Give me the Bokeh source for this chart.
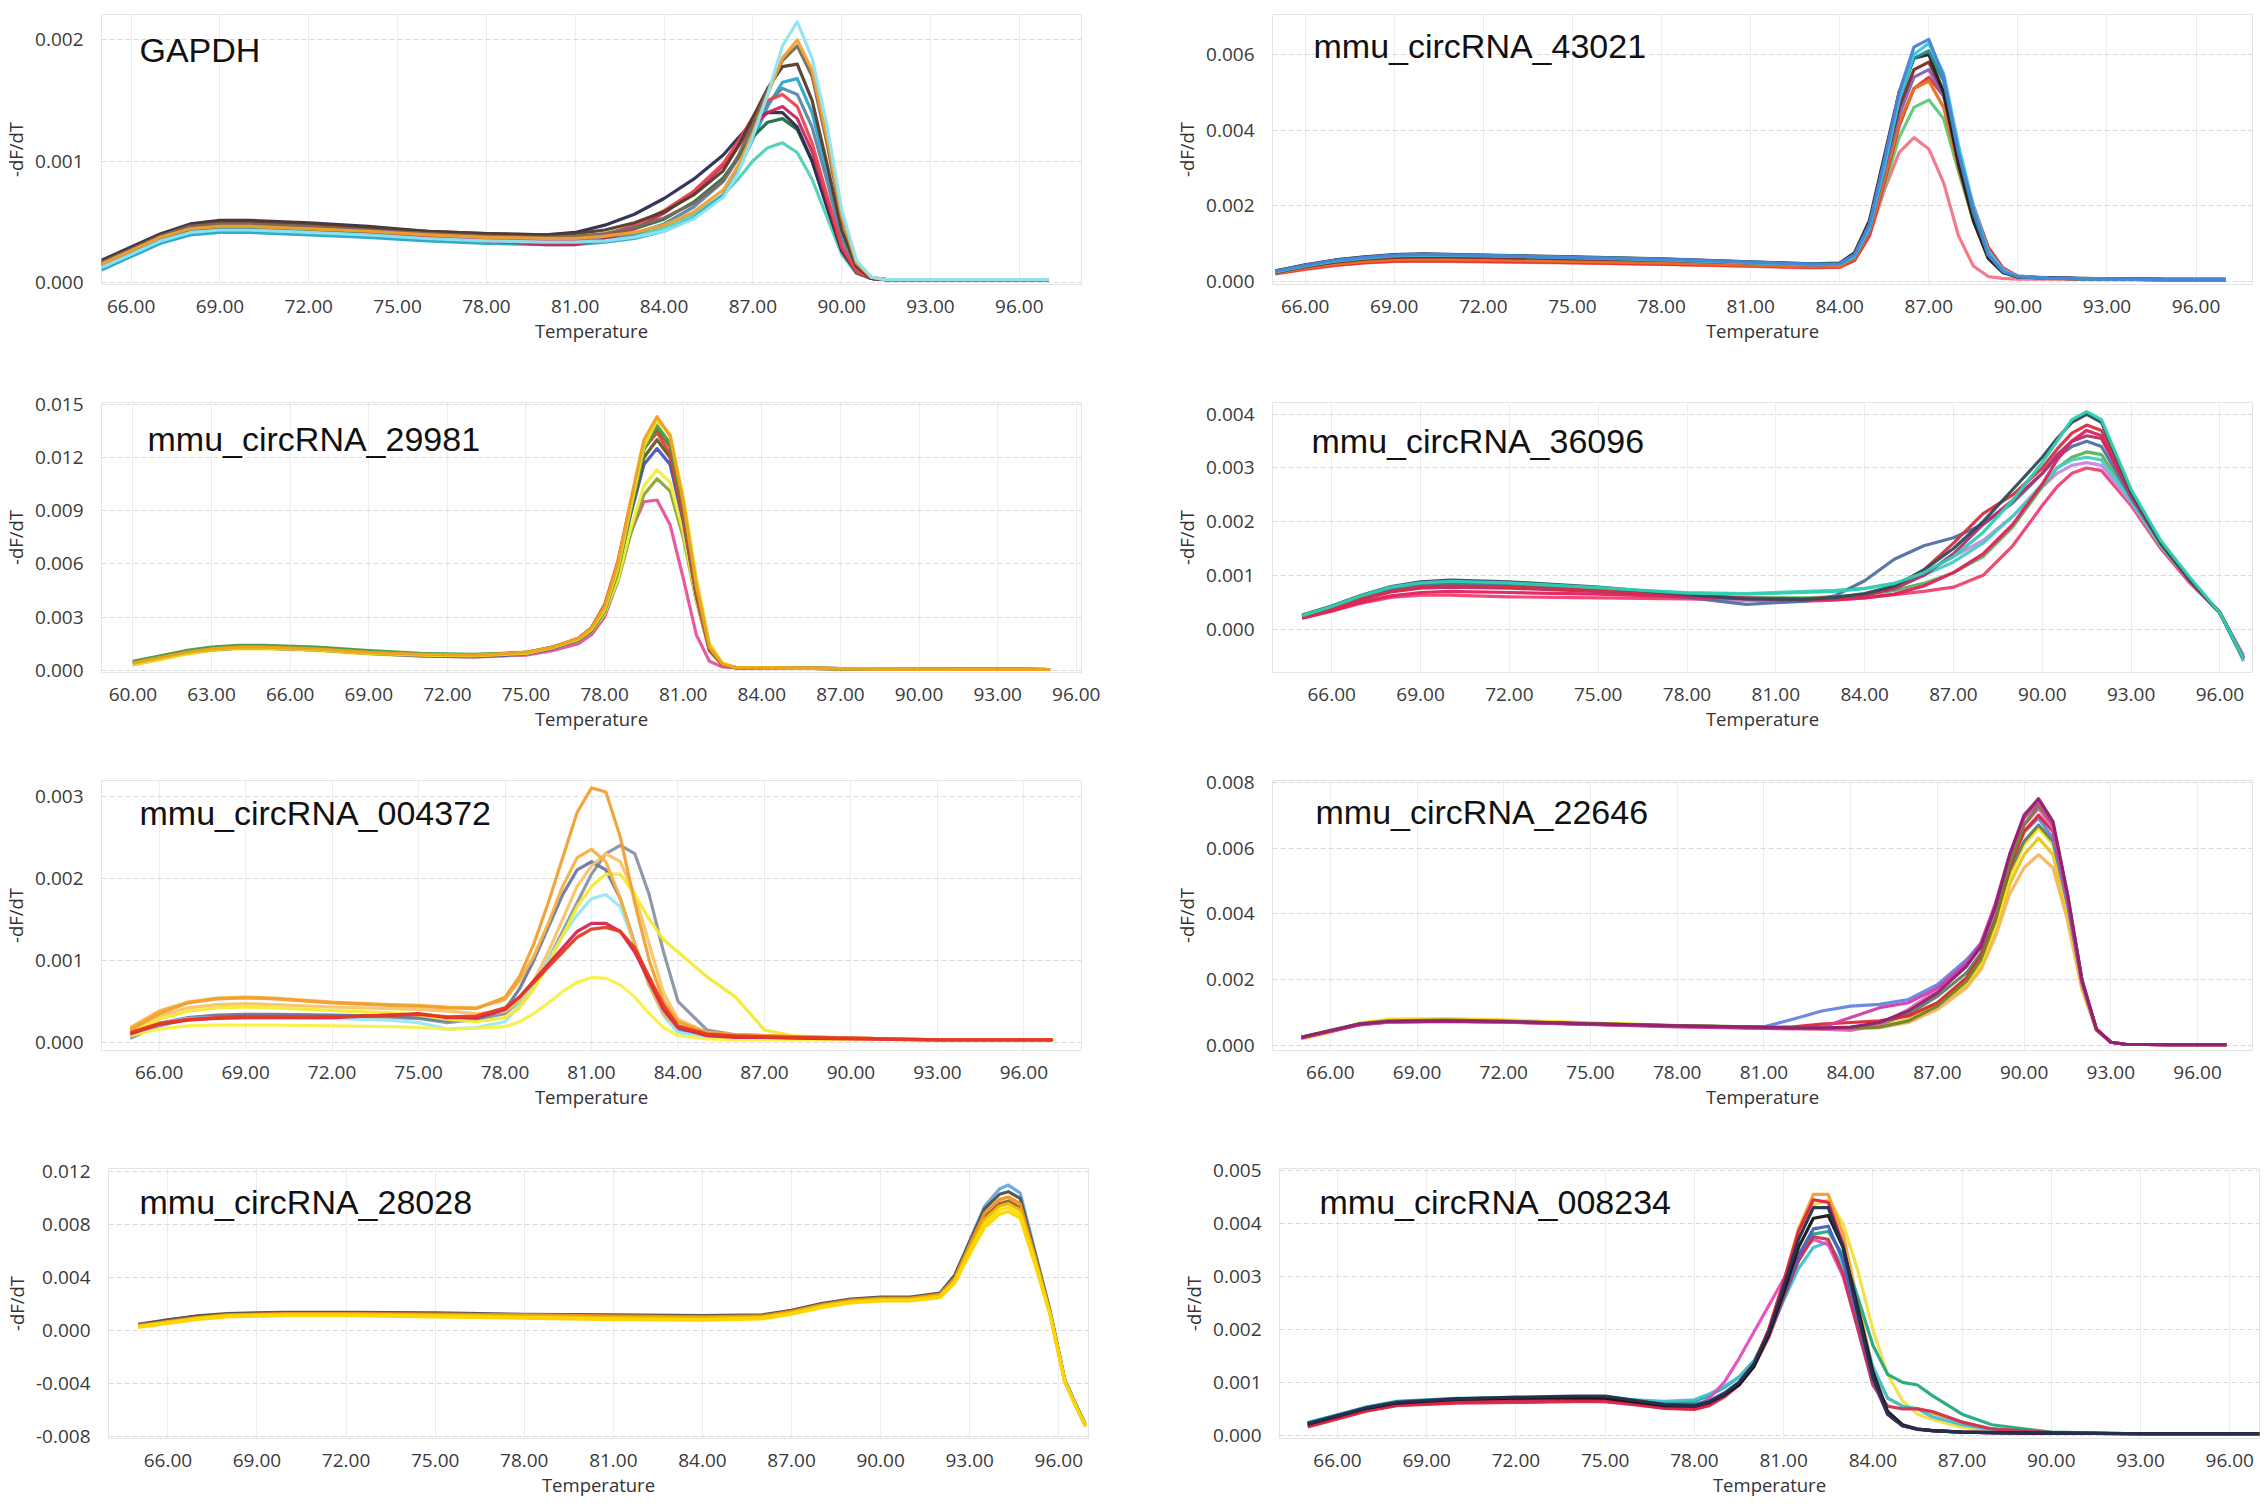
from bokeh.plotting import figure
from bokeh.layouts import column, row
from bokeh.models import Label, FixedTicker, NumeralTickFormatter, Range1d
from bokeh.embed import file_html
from bokeh.resources import INLINE

UNIT = 1e-4  # every curve value below is -dF/dT in units of 1e-4

TICK_FONT = "Open Sans"
TITLE_FONT = "Liberation Sans"
FRAME_W, FRAME_H = 980, 270

temp_ticks = [66, 69, 72, 75, 78, 81, 84, 87, 90, 93, 96]
temp_ticks_60 = [60, 63, 66, 69, 72, 75, 78, 81, 84, 87, 90, 93, 96]

# ---------------- GAPDH
gapdh_temp = [65, 66, 67, 68, 69, 70, 72, 74, 76, 78, 80, 81, 82, 83, 84, 85, 86,
              86.5, 87, 87.5, 88, 88.5, 89, 89.5, 90, 90.5, 91, 91.5, 93, 95, 97]
gapdh_j = [1.1, 2.2, 3.3, 4.0, 4.2, 4.2, 4.0, 3.8, 3.5, 3.3, 3.2, 3.2, 3.4, 3.8, 4.5, 5.6, 7.2,
           8.5, 10.0, 11.1, 11.5, 10.7, 8.5, 5.4, 2.3, 0.7, 0.3, 0.2, 0.2, 0.2, 0.2]
gapdh_e = [1.0, 2.1, 3.2, 3.9, 4.1, 4.1, 3.9, 3.7, 3.4, 3.2, 3.1, 3.1, 3.3, 3.6, 4.2, 5.3, 7.2,
           9.2, 11.8, 14.5, 16.5, 16.8, 14.0, 9.2, 4.0, 1.2, 0.3, 0.2, 0.2, 0.2, 0.2]
gapdh_k = [1.3, 2.4, 3.5, 4.2, 4.4, 4.4, 4.2, 4.0, 3.7, 3.5, 3.4, 3.4, 3.6, 4.0, 4.8, 6.2, 8.3,
           10.2, 12.5, 14.8, 16.0, 15.5, 12.8, 8.4, 3.6, 1.1, 0.3, 0.2, 0.2, 0.2, 0.2]
gapdh_i = [1.4, 2.5, 3.6, 4.3, 4.5, 4.5, 4.3, 4.0, 3.7, 3.5, 3.5, 3.6, 3.9, 4.4, 5.2, 6.6, 8.6,
           10.3, 12.0, 13.2, 13.5, 12.6, 10.0, 6.3, 2.6, 0.8, 0.3, 0.2, 0.2, 0.2, 0.2]
gapdh_h = [1.8, 2.9, 4.0, 4.8, 5.1, 5.1, 4.9, 4.6, 4.2, 4.0, 3.9, 4.1, 4.7, 5.6, 6.9, 8.5, 10.5,
           11.9, 13.2, 14.0, 14.0, 12.8, 10.0, 6.2, 2.6, 0.8, 0.3, 0.2, 0.2, 0.2, 0.2]
gapdh_g = [1.5, 2.6, 3.7, 4.5, 4.7, 4.7, 4.5, 4.2, 3.8, 3.4, 3.1, 3.1, 3.5, 4.4, 5.7, 7.4, 9.6,
           11.2, 12.9, 14.0, 14.5, 13.5, 10.8, 6.8, 2.8, 0.8, 0.3, 0.2, 0.2, 0.2, 0.2]
gapdh_f = [1.6, 2.7, 3.8, 4.6, 4.9, 4.9, 4.6, 4.3, 4.0, 3.7, 3.4, 3.5, 3.9, 4.7, 5.9, 7.5, 9.8,
           11.6, 13.6, 15.0, 15.5, 14.5, 11.5, 7.2, 3.0, 0.9, 0.3, 0.2, 0.2, 0.2, 0.2]
gapdh_d = [1.7, 2.8, 3.9, 4.7, 5.0, 5.0, 4.8, 4.5, 4.2, 4.0, 3.9, 4.0, 4.3, 4.9, 5.8, 7.2, 9.2,
           11.2, 13.6, 16.0, 17.8, 18.0, 15.0, 9.8, 4.3, 1.3, 0.3, 0.2, 0.2, 0.2, 0.2]
gapdh_c = [1.6, 2.7, 3.8, 4.6, 4.8, 4.8, 4.6, 4.3, 4.0, 3.8, 3.7, 3.8, 4.0, 4.5, 5.3, 6.5, 8.4,
           10.4, 13.0, 15.8, 18.3, 19.5, 17.0, 11.5, 5.2, 1.5, 0.4, 0.2, 0.2, 0.2, 0.2]
gapdh_b = [1.5, 2.6, 3.7, 4.4, 4.6, 4.6, 4.4, 4.2, 3.9, 3.7, 3.6, 3.6, 3.8, 4.1, 4.7, 5.8, 7.6,
           9.6, 12.3, 15.5, 18.5, 20.0, 17.5, 12.0, 5.5, 1.6, 0.4, 0.2, 0.2, 0.2, 0.2]
gapdh_a = [1.2, 2.3, 3.4, 4.1, 4.3, 4.3, 4.1, 3.9, 3.6, 3.4, 3.3, 3.3, 3.4, 3.7, 4.2, 5.2, 7.0,
           9.0, 12.0, 15.5, 19.5, 21.5, 18.5, 13.0, 6.0, 1.8, 0.4, 0.2, 0.2, 0.2, 0.2]
gapdh_colors = ["#4fd0b8", "#2aa8c8", "#5a86a8", "#1f6a44", "#2b2b52", "#c8285a",
                "#e84450", "#5a3a2a", "#7a6a5a", "#f0a030", "#8ee4f2"]

# ---------------- mmu_circRNA_43021
c43021_temp = [65, 66, 67, 68, 69, 70, 72, 75, 78, 81, 83, 84, 84.5, 85, 85.5, 86, 86.5,
               87, 87.5, 88, 88.5, 89, 89.5, 90, 91, 93, 95, 97]
c43021_pink = [1.9, 3.1, 4.1, 4.8, 5.2, 5.3, 5.1, 4.8, 4.4, 3.9, 3.5, 3.6,
               5.5, 12, 24, 34, 38, 35, 26, 12, 4, 1.2, 0.7, 0.5, 0.5, 0.4, 0.4, 0.4]
c43021_green = [2.4, 3.9, 5.1, 5.9, 6.4, 6.6, 6.4, 6.0, 5.5, 4.8, 4.3, 4.4,
                6.2, 12.5, 25, 38, 46, 48, 43, 29, 16, 6.5, 2.5, 1.1, 0.8, 0.5, 0.4, 0.4]
c43021_red = [2.0, 3.2, 4.2, 4.9, 5.3, 5.4, 5.2, 4.9, 4.5, 4.0, 3.6, 3.7,
              5.5, 12, 26, 41, 51, 54, 49, 34, 20, 9, 3.5, 1.3, 0.8, 0.5, 0.4, 0.4]
c43021_orange = [2.1, 3.4, 4.5, 5.2, 5.7, 5.8, 5.6, 5.2, 4.8, 4.2, 3.8, 3.9,
                 6, 13, 27, 42, 51, 53, 46, 30, 16, 6.5, 2.5, 1.1, 0.8, 0.5, 0.4, 0.4]
c43021_purple = [2.5, 4.0, 5.2, 6.0, 6.6, 6.8, 6.6, 6.1, 5.6, 4.9, 4.4, 4.5,
                 6.5, 13.5, 29, 44, 54, 56, 49, 32, 17.5, 7, 2.7, 1.2, 0.8, 0.5, 0.4, 0.4]
c43021_brown = [2.3, 3.8, 5.0, 5.8, 6.3, 6.5, 6.3, 5.9, 5.5, 4.8, 4.3, 4.4,
                6.5, 14, 30, 46, 56, 58, 50, 32, 17, 6.5, 2.5, 1.1, 0.8, 0.5, 0.4, 0.4]
c43021_black = [2.7, 4.3, 5.6, 6.4, 7.0, 7.2, 6.9, 6.4, 5.9, 5.1, 4.6, 4.8,
                7.5, 16, 33, 50, 59, 60, 50, 31, 16, 6, 2.2, 1.1, 0.9, 0.6, 0.5, 0.5]
c43021_teal = [2.6, 4.1, 5.4, 6.2, 6.8, 7.0, 6.8, 6.3, 5.8, 5.0, 4.5, 4.6,
               7, 15, 31, 48, 59, 61, 53, 34, 18, 7, 2.7, 1.2, 0.8, 0.5, 0.4, 0.4]
c43021_cyan = [2.4, 4.0, 5.3, 6.1, 6.7, 6.9, 6.7, 6.2, 5.6, 4.8, 4.3, 4.4,
               6.5, 14, 30, 48, 60, 63, 55, 36, 20, 8, 3, 1.3, 0.8, 0.5, 0.4, 0.4]
c43021_blue = [2.6, 4.2, 5.5, 6.3, 6.9, 7.1, 6.8, 6.3, 5.8, 5.0, 4.5, 4.6,
               7, 15, 32, 50, 62, 64, 54, 34, 19, 7, 2.5, 1.2, 0.8, 0.5, 0.4, 0.4]
c43021_colors = ["#f27585", "#5cc878", "#e83030", "#e87020", "#8060c0", "#7a2a20",
                 "#222222", "#208a8a", "#38c4e4", "#4a84d4"]

# ---------------- mmu_circRNA_29981
c29981_temp = [60, 61, 62, 63, 64, 65, 67, 69, 71, 73, 75, 76, 77, 77.5, 78, 78.5, 79,
               79.5, 80, 80.5, 81, 81.5, 82, 82.5, 83, 85, 88, 92, 95]
c29981_pink = [3.5, 6.5, 9.5, 11.5, 12.5, 12.5, 11.5, 9.5, 8, 7.5, 8.5, 11, 15,
               20, 30, 50, 78, 95, 96, 82, 52, 20, 5, 1.8, 1.3, 1.1, 0.8, 0.5, 0.4]
c29981_olive = [4, 7, 10, 12, 13, 13, 12, 10, 8.5, 8, 9.5, 12.5, 17,
                22, 32, 50, 77, 99, 108, 101, 75, 39, 11, 3, 1.5, 1.2, 0.8, 0.5, 0.4]
c29981_yellow2 = [3, 6, 9, 11, 12, 12, 11, 9, 8, 7.5, 9, 12, 17,
                  22, 32, 51, 80, 104, 113, 106, 78, 40, 12, 3.2, 1.5, 1.2, 0.8, 0.5, 0.4]
c29981_blue = [3.5, 6.5, 9.5, 11.5, 12.5, 12.5, 11.5, 9.5, 8, 7.5, 9, 12, 17,
               23, 35, 57, 88, 116, 125, 116, 84, 42, 12, 3.2, 1.5, 1.2, 0.8, 0.5, 0.4]
c29981_dark = [4.5, 7.5, 10.5, 12.5, 13.5, 13.5, 12.5, 10.5, 9, 8.5, 10, 12.5, 17,
               22.5, 34, 57, 90, 120, 130, 120, 86, 43, 12, 3.2, 1.5, 1.2, 0.8, 0.5, 0.4]
c29981_red = [4, 7, 10, 12, 13, 13, 12, 10, 8.5, 8, 9.5, 12.5, 18,
              24, 37, 61, 95, 125, 134, 122, 86, 42, 11, 3, 1.5, 1.2, 0.8, 0.5, 0.4]
c29981_brown = [4.5, 7.5, 10.5, 12.5, 13.5, 13.5, 12.5, 10.5, 9, 8.5, 10, 13, 18,
                24, 36, 59, 94, 126, 136, 126, 90, 45, 12, 3.3, 1.5, 1.2, 0.8, 0.5, 0.4]
c29981_green = [5, 8, 11, 13, 14, 14, 13, 11, 9.5, 9, 10, 13, 17,
                22, 33, 55, 90, 124, 138, 128, 93, 47, 13, 3.5, 1.5, 1.2, 0.8, 0.5, 0.4]
c29981_yellow = [3, 6, 9, 11.5, 12.5, 12.5, 11.5, 9.5, 8.5, 8, 9.5, 12.5, 17.5,
                 23, 34, 57, 92, 126, 141, 133, 98, 52, 15, 4, 1.6, 1.2, 0.8, 0.5, 0.4]
c29981_orange = [4, 7, 10, 12, 13, 13, 12, 10, 9, 8.5, 10, 13, 18,
                 24, 36, 60, 96, 130, 143, 132, 95, 48, 13, 3.5, 1.5, 1.2, 0.8, 0.5, 0.4]
c29981_colors = ["#e8509c", "#88a830", "#f0ec40", "#4454c4", "#5e6020", "#e04040",
                 "#946030", "#44a044", "#e8dc20", "#f0a020"]

# ---------------- mmu_circRNA_36096
c36096_temp = [65, 66, 67, 68, 69, 70, 72, 75, 78, 80, 82, 83, 84, 85, 86, 87, 88, 89, 90,
               90.5, 91, 91.5, 92, 93, 94, 95, 96, 96.8]
c36096_pinkred = [2.0, 3.3, 4.8, 5.9, 6.3, 6.3, 6.0, 5.8, 5.6, 5.4, 5.2, 5.4,
                  5.8, 6.4, 7.0, 7.8, 10, 15.5, 23, 26.5, 29, 30, 29.5, 23, 15, 8.5, 3, -5]
c36096_violet = [2.3, 3.9, 5.8, 7.2, 7.9, 8.1, 7.8, 7.0, 6.0, 5.4, 5.5, 5.8,
                 6.5, 8.0, 10.5, 13.5, 16.5, 21, 26.5, 29, 30.5, 31, 30.5, 23.5, 15.5, 9, 3, -5]
c36096_green = [2.4, 4.0, 5.9, 7.4, 8.2, 8.4, 8.1, 7.3, 6.3, 5.8, 5.8, 6.0,
                6.4, 7.2, 8.5, 10.5, 13.5, 19, 26.5, 30, 32, 33, 32.5, 24, 15.5, 9, 3, -5.5]
c36096_tealpale = [2.3, 3.9, 5.8, 7.3, 8.1, 8.4, 8.2, 7.5, 6.8, 6.6, 7.0, 7.2,
                   7.6, 8.5, 10, 12.5, 16, 21, 27, 30, 31.5, 32, 31.5, 24, 15.5, 9, 3, -6]
c36096_slateblue = [2.4, 4.0, 6.0, 7.5, 8.3, 8.5, 8.2, 7.3, 5.9, 4.6, 5.2, 6.2,
                    9.0, 13, 15.5, 17, 19.5, 23.5, 29, 32, 34, 35, 34, 24.5, 16, 9, 3, -5.5]
c36096_magenta = [2.2, 3.7, 5.5, 6.9, 7.6, 7.8, 7.6, 7.0, 6.2, 5.8, 5.6, 5.8,
                  6.3, 7.5, 10, 14, 19.5, 24, 29, 32.5, 35, 36, 35.5, 25, 16, 9, 3, -5.5]
c36096_crimson = [2.0, 3.4, 5.0, 6.2, 6.8, 7.0, 6.8, 6.5, 6.0, 5.6, 5.4, 5.5,
                  5.8, 6.5, 8.0, 10.5, 14, 19.5, 27, 31.5, 35, 37, 36, 25, 16, 9, 3, -5.5]
c36096_red = [2.2, 3.8, 5.6, 7.0, 7.8, 8.0, 7.8, 7.2, 6.3, 5.7, 5.6, 5.8,
              6.4, 7.8, 11, 16, 21.5, 25, 30, 33.5, 36.5, 38, 37, 25.5, 16, 9, 3, -5.5]
c36096_slate = [2.6, 4.3, 6.3, 7.9, 8.8, 9.1, 8.8, 7.8, 6.4, 5.6, 5.5, 5.9,
                6.6, 8.0, 11, 15, 20, 26, 32, 35.5, 38.5, 40, 38.5, 25.5, 16, 9, 3, -5.5]
c36096_teal = [2.5, 4.2, 6.2, 7.8, 8.6, 8.9, 8.6, 7.7, 6.7, 6.5, 6.8, 7.0,
               7.5, 8.5, 10.5, 13.5, 18, 24, 31, 35, 39, 40.5, 39, 26, 16.5, 9.5, 3, -5.5]
c36096_colors = ["#f04070", "#c888e4", "#58b450", "#48ccc4", "#5070a4", "#b03070",
                 "#e02060", "#d43040", "#2e4c5c", "#2ed0b0"]

# ---------------- mmu_circRNA_004372
c004372_temp = [65, 66, 67, 68, 69, 70, 72, 74, 75, 76, 77, 78, 78.5, 79, 79.5, 80, 80.5,
                81, 81.5, 82, 82.5, 83, 83.5, 84, 85, 86, 87, 88, 90, 93, 97]
c004372_gray = [0.5, 2.0, 2.8, 3.2, 3.3, 3.3, 3.2, 3.0, 2.9, 2.4, 2.8, 3.5,
                5, 7, 10, 13.5, 17, 20.5, 23, 24, 23, 18, 11, 5, 1.5, 0.9, 0.8, 0.7, 0.5, 0.3, 0.3]
c004372_bluegray = [0.8, 2.3, 3.0, 3.3, 3.4, 3.4, 3.3, 3.2, 3.0, 2.6, 2.8, 4.0,
                    6.5, 10, 14, 18, 21, 22, 21, 17.5, 12, 7, 3.5, 1.5, 0.8, 0.6, 0.5, 0.5, 0.4, 0.3, 0.3]
c004372_cyan = [1.0, 2.3, 2.9, 3.0, 3.0, 3.0, 2.9, 2.7, 2.4, 1.6, 1.8, 2.5,
                4.5, 7, 10, 13, 15.5, 17.5, 18, 16.5, 12, 7, 3.2, 1.2, 0.6, 0.5, 0.5, 0.4, 0.4, 0.3, 0.3]
c004372_lightorange = [1.5, 3.2, 4.2, 4.6, 4.7, 4.6, 4.3, 4.1, 4.0, 3.8, 3.5, 3.8,
                       5, 7.5, 11, 15, 19, 21.5, 23, 22, 18, 12, 6, 2.8, 1.2, 0.9, 0.8, 0.7, 0.5, 0.3, 0.3]
c004372_yellow = [1.2, 2.8, 3.8, 4.2, 4.3, 4.2, 3.9, 3.6, 3.3, 2.8, 2.5, 3.0,
                  4.2, 6.5, 9.5, 13, 16.5, 19, 20.5, 20.5, 18, 15, 12.5, 11, 8, 5.5, 1.5, 0.8, 0.5, 0.3, 0.3]
c004372_orange2 = [1.8, 3.8, 4.9, 5.4, 5.5, 5.4, 4.9, 4.6, 4.5, 4.3, 4.2, 5.2,
                   7.5, 10.5, 14.5, 19, 22.5, 23.5, 22, 17.5, 12, 7, 3.5, 1.8, 1.1, 0.9, 0.8, 0.7, 0.5, 0.3, 0.3]
c004372_orange = [1.5, 3.5, 4.8, 5.3, 5.4, 5.3, 4.8, 4.5, 4.4, 4.2, 4.1, 5.5,
                  8, 12, 17, 22.5, 28, 31, 30.5, 25, 17, 10, 5, 2.5, 1.2, 0.9, 0.8, 0.7, 0.5, 0.3, 0.3]
c004372_yellowlow = [0.8, 1.6, 2.0, 2.1, 2.1, 2.1, 2.0, 1.9, 1.8, 1.6, 1.7, 1.9,
                     2.5, 3.5, 4.8, 6.2, 7.3, 7.9, 7.8, 7.0, 5.5, 3.5, 1.8, 0.8, 0.4, 0.3, 0.3, 0.3, 0.3, 0.3, 0.3]
c004372_crimson = [1.0, 2.2, 2.7, 2.9, 3.0, 3.0, 3.0, 3.3, 3.5, 3.0, 3.0, 4.0,
                   5.5, 7.5, 9.5, 11.5, 13.5, 14.5, 14.5, 13.5, 11, 7.5, 4, 1.8, 0.8, 0.6, 0.6, 0.5, 0.4, 0.3, 0.3]
c004372_red = [1.2, 2.3, 2.8, 3.0, 3.1, 3.1, 3.1, 3.3, 3.4, 3.1, 3.2, 4.2,
               5.5, 7.3, 9.2, 11, 12.8, 13.8, 14, 13.5, 11.5, 8, 4.5, 2.0, 1.0, 0.8, 0.7, 0.6, 0.5, 0.3, 0.3]
c004372_colors = ["#8a94a4", "#6a7aa2", "#98e8f2", "#f8c468", "#f4ea30", "#f8b040",
                  "#f0a030", "#f8f048", "#d42458", "#e63a1c"]

# ---------------- mmu_circRNA_22646
c22646_temp = [65, 66, 67, 68, 70, 72, 75, 78, 81, 82, 83, 84, 85, 86, 87, 88,
               88.5, 89, 89.5, 90, 90.5, 91, 91.5, 92, 92.5, 93, 93.5, 95, 97]
c22646_lightorange = [2.3, 4.3, 6.4, 7.3, 7.5, 7.2, 6.5, 5.9, 5.3, 5.1, 5.0, 5.0, 5.4, 7.0, 11, 17.5,
                      23, 33, 46, 54, 58, 54, 38, 17, 4.5, 1.0, 0.4, 0.3, 0.3]
c22646_yellow2 = [2.2, 4.2, 6.6, 7.7, 7.9, 7.6, 6.8, 6.0, 5.4, 5.2, 5.1, 5.2, 5.7, 7.8, 12, 18.5,
                  24, 35, 49, 58, 63, 58, 40, 18, 4.8, 1.0, 0.4, 0.3, 0.3]
c22646_yellow = [2.0, 4.0, 6.8, 8.0, 8.2, 7.8, 6.9, 6.1, 5.5, 5.3, 5.2, 5.3, 5.8, 8.0, 12.5, 19,
                 25, 36, 51, 61, 66, 61, 42, 18.5, 5, 1.0, 0.4, 0.3, 0.3]
c22646_graygreen = [2.5, 4.5, 6.5, 7.3, 7.5, 7.3, 6.6, 6.0, 5.5, 5.4, 5.3, 5.5, 6.5, 9.5, 15, 22,
                    28, 39, 53, 62, 67, 62, 43, 19, 5, 1.0, 0.4, 0.3, 0.3]
c22646_blue = [2.4, 4.4, 6.4, 7.2, 7.4, 7.2, 6.5, 5.9, 5.7, 8.0, 10.5, 12, 12.5, 14, 18.5, 26,
               31, 42, 56, 65, 69, 63, 43, 19, 5, 1.0, 0.4, 0.3, 0.3]
c22646_red = [2.4, 4.4, 6.4, 7.2, 7.4, 7.2, 6.5, 5.9, 5.4, 5.7, 6.5, 7.0, 7.5, 9, 13, 20.5,
              27, 38, 54, 65, 70, 65, 45, 19.5, 5, 1.0, 0.4, 0.3, 0.3]
c22646_pink = [2.3, 4.3, 6.3, 7.1, 7.3, 7.1, 6.4, 5.8, 5.3, 5.1, 5.0, 4.6, 6.5, 11, 17, 24.5,
               30, 41, 56, 67, 72, 66, 45, 19.5, 5, 1.0, 0.4, 0.3, 0.3]
c22646_olive = [2.6, 4.6, 6.6, 7.5, 7.7, 7.4, 6.7, 6.1, 5.6, 5.5, 5.4, 5.3, 5.6, 7.5, 12, 19.5,
                26, 38, 55, 67, 73, 67, 46, 20, 5, 1.0, 0.4, 0.3, 0.3]
c22646_magenta = [2.3, 4.3, 6.3, 7.1, 7.3, 7.1, 6.4, 5.7, 5.2, 5.1, 5.5, 8.5, 11.5, 13, 17.5, 25,
                  31, 43, 58, 69, 74, 67, 45, 19.5, 5, 1.0, 0.4, 0.3, 0.3]
c22646_purple = [2.5, 4.5, 6.5, 7.3, 7.5, 7.3, 6.6, 6.0, 5.5, 5.4, 5.3, 5.6, 7.0, 10.5, 16, 24,
                 30, 42, 58, 70, 75, 68, 46, 20, 5, 1.0, 0.4, 0.3, 0.3]
c22646_colors = ["#f8b460", "#e8c420", "#f2e41e", "#5e8060", "#6484e4", "#e02434",
                 "#e664c4", "#728232", "#d040a0", "#902070"]

# ---------------- mmu_circRNA_28028
c28028_temp = [65, 66, 67, 68, 70, 72, 75, 78, 81, 84, 86, 87, 88, 89, 90, 91, 92,
               92.5, 93, 93.5, 94, 94.3, 94.7, 95.2, 95.7, 96.2, 96.6, 96.9]
c28028_blue = [4.5, 8, 11, 12.5, 13.5, 13.5, 12.5, 12, 11.5, 11, 11.5, 15, 20, 23.5, 25, 25, 28,
               42, 68, 94, 107, 110, 104, 60, 16, -37, -57, -71]
c28028_dark = [4.8, 8.2, 11.2, 13, 14, 14, 13.5, 12.5, 12, 11.5, 12, 15.5, 20.5, 24, 25.5, 25.5, 28.5,
               42, 67, 92, 103, 105, 100, 58, 15, -37, -57, -71]
c28028_brown = [4.2, 7.2, 10.2, 12.2, 13.2, 13.2, 12.7, 12, 11.3, 10.8, 11.3, 14.8, 19.8, 23.2, 24.7, 24.7, 27.5,
                39, 63, 86, 96, 98, 93, 55, 14, -38, -58, -72]
c28028_orange = [4, 7, 10, 12, 13, 13, 12.5, 12, 11, 10.5, 11, 14.5, 19.5, 23, 24.5, 24.5, 27.5,
                 40, 65, 89, 99, 101, 96, 56, 14, -38, -58, -72]
c28028_gold = [3.5, 6.5, 9.5, 11.5, 12.5, 12.5, 11.8, 11, 10, 9.5, 10.3, 13.8, 18.8, 22.3, 23.8, 23.8, 26.5,
               38, 62, 84, 94, 96, 91, 54, 13.5, -38, -58, -72]
c28028_yellow = [3, 6, 9, 11, 12, 12, 11, 10, 9, 8.5, 9.5, 13, 18, 21.5, 23, 23, 25.5,
                 37, 60, 81, 91, 93, 88, 52, 13, -38, -58, -72]
c28028_yellow2 = [2.5, 5.5, 8.5, 10.5, 11.5, 11.5, 10.5, 9.5, 8.5, 8, 9, 12.5, 17.5, 21, 22.5, 22.5, 25,
                  36, 58, 78, 88, 90, 85, 50, 12.5, -38, -58, -71]
c28028_colors = ["#64a8e0", "#4e4e4e", "#a06022", "#f09020", "#ecb800", "#f8e000", "#ffd400"]

# ---------------- mmu_circRNA_008234
c008234_temp = [65, 66, 67, 68, 70, 72, 74, 75, 76, 77, 78, 78.5, 79, 79.5, 80, 80.5, 81,
                81.5, 82, 82.5, 83, 83.5, 84, 84.5, 85, 85.5, 86, 87, 88, 90, 93, 97]
c008234_yellow = [1.9, 3.4, 4.9, 5.9, 6.5, 6.7, 6.9, 7.0, 6.3, 5.5, 5.3,
                  6.0, 7.6, 9.8, 13.5, 19.5, 28, 37, 43.5, 44.5, 40, 31, 20, 11.5, 6.5, 4, 3,
                  1.5, 0.8, 0.4, 0.3, 0.3]
c008234_orange = [2, 3.5, 5, 6, 6.7, 6.9, 7.2, 7.3, 6.5, 5.6, 5.4,
                  6.2, 7.8, 10, 13.5, 20, 29, 39, 45.5, 45.5, 38, 25, 12.5, 7, 5.5, 5, 4.2,
                  2.5, 1.2, 0.5, 0.3, 0.3]
c008234_green = [2.4, 3.9, 5.4, 6.4, 7.0, 7.1, 7.2, 7.1, 6.6, 6.2, 6.4,
                 7.5, 9, 11, 14, 19.5, 26.5, 33, 38, 38.5, 34, 26, 17, 11.5, 10, 9.5, 7.5,
                 4, 2, 0.6, 0.3, 0.3]
c008234_cyan = [2.2, 3.7, 5.2, 6.2, 6.8, 7.0, 7.1, 7.1, 6.7, 6.4, 6.7,
                7.8, 9.2, 11, 14, 19, 25.5, 31.5, 35.5, 36.5, 32, 23, 13, 7, 5.5, 5, 3.5,
                2, 1, 0.5, 0.3, 0.3]
c008234_pink = [1.7, 3.2, 4.7, 5.7, 6.2, 6.3, 6.4, 6.3, 5.8, 5.2, 5.3,
                7.0, 10, 14.5, 19.5, 24.5, 29.5, 34, 37, 36, 30, 20, 10, 4, 1.8, 1.1, 0.9,
                0.6, 0.5, 0.4, 0.3, 0.3]
c008234_crimson = [1.6, 3.1, 4.6, 5.6, 6.1, 6.2, 6.4, 6.4, 5.8, 5.1, 4.9,
                   5.6, 7.2, 9.5, 13, 18.5, 26, 33, 37.5, 37, 30.5, 20, 9.5, 5.5, 5, 5, 4.5,
                   2.5, 1.2, 0.5, 0.3, 0.3]
c008234_blue = [2.3, 3.8, 5.3, 6.3, 6.9, 7.1, 7.1, 7.0, 6.4, 5.9, 5.8,
                6.5, 8, 10, 13.5, 19, 26.5, 34, 39, 39.5, 33, 22, 10.5, 4, 1.8, 1.1, 0.9,
                0.6, 0.5, 0.4, 0.3, 0.3]
c008234_red = [1.8, 3.3, 4.8, 5.8, 6.3, 6.6, 6.8, 6.7, 6.0, 5.2, 5.0,
               5.8, 7.5, 9.8, 13.5, 20, 29, 38.5, 44.5, 44, 36, 23, 11, 4, 1.8, 1.2, 0.9,
               0.6, 0.5, 0.4, 0.3, 0.3]
c008234_black = [2.1, 3.6, 5.1, 6.1, 6.8, 7.0, 7.1, 7.0, 6.3, 5.6, 5.5,
                 6.2, 7.6, 9.5, 13, 19, 27, 35.5, 41, 41.5, 35.5, 24, 12, 4.5, 2, 1.2, 0.9,
                 0.6, 0.5, 0.4, 0.3, 0.3]
c008234_navy = [2.2, 3.7, 5.2, 6.2, 6.9, 7.2, 7.4, 7.4, 6.6, 5.8, 5.6,
                6.3, 7.8, 10, 13.5, 19.5, 28, 37, 43, 43, 35.5, 23, 11, 4, 1.8, 1.2, 0.9,
                0.6, 0.5, 0.4, 0.3, 0.3]
c008234_colors = ["#f0e040", "#f0a030", "#22a684", "#40c0d0", "#e050c0", "#d03050",
                  "#4060c0", "#e42040", "#141414", "#24324e"]


def make_panel(name, temps, curves, colors, x_rng, y_rng, y_ticks, x_ticks,
               title_dx, title_dy, left_col, top, bottom):
    p = figure(frame_width=FRAME_W, frame_height=FRAME_H,
               x_range=Range1d(*x_rng), y_range=Range1d(*y_rng),
               output_backend="svg", toolbar_location=None,
               min_border_left=94 if left_col else 100,
               min_border_right=90 if left_col else 6,
               min_border_top=top, min_border_bottom=bottom,
               background_fill_color="white", border_fill_color="white")
    for vals, c in zip(curves, colors):
        assert len(vals) == len(temps), name
        p.line(temps, [v * UNIT for v in vals], line_color=c, line_width=3.2,
               line_alpha=0.95, line_join="round")

    p.outline_line_color = "#e4e4e4"
    p.xgrid.grid_line_color = "#ececec"
    p.ygrid.grid_line_color = "#dadada"
    p.ygrid.grid_line_dash = "5 3"

    p.xaxis.ticker = FixedTicker(ticks=x_ticks)
    p.yaxis.ticker = FixedTicker(ticks=y_ticks)
    p.xaxis.formatter = NumeralTickFormatter(format="0.00")
    p.yaxis.formatter = NumeralTickFormatter(format="0.000")
    p.xaxis.axis_label = "Temperature"
    p.yaxis.axis_label = "-dF/dT"
    for ax in (p.xaxis, p.yaxis):
        ax.axis_line_color = None
        ax.major_tick_line_color = None
        ax.minor_tick_line_color = None
        ax.major_label_text_font = TICK_FONT
        ax.major_label_text_font_size = "19px"
        ax.major_label_text_color = "#3a3a3a"
        ax.axis_label_text_font = TICK_FONT
        ax.axis_label_text_font_size = "18.5px"
        ax.axis_label_text_font_style = "normal"
        ax.axis_label_text_color = "#333333"
    p.xaxis.major_label_standoff = 9
    p.xaxis.axis_label_standoff = 2
    p.yaxis.major_label_standoff = 12
    p.yaxis.axis_label_standoff = 4

    p.add_layout(Label(x=title_dx, y=FRAME_H - title_dy, x_units="screen", y_units="screen",
                       text=name, text_font=TITLE_FONT, text_font_size="34px",
                       text_color="#111111", text_baseline="alphabetic"))
    return p


p1 = make_panel("GAPDH", gapdh_temp,
                [gapdh_j, gapdh_e, gapdh_k, gapdh_i, gapdh_h, gapdh_g, gapdh_f,
                 gapdh_d, gapdh_c, gapdh_b, gapdh_a], gapdh_colors,
                (65.0, 98.1), (-0.00002, 0.00221), [0, 0.001, 0.002], temp_ticks,
                38, 35, True, 14, 70)
p2 = make_panel("mmu_circRNA_43021", c43021_temp,
                [c43021_pink, c43021_green, c43021_red, c43021_orange, c43021_purple,
                 c43021_brown, c43021_black, c43021_teal, c43021_cyan, c43021_blue], c43021_colors,
                (64.9, 97.9), (-0.00009, 0.00706), [0, 0.002, 0.004, 0.006], temp_ticks,
                41, 31, False, 14, 70)
p3 = make_panel("mmu_circRNA_29981", c29981_temp,
                [c29981_pink, c29981_olive, c29981_yellow2, c29981_blue, c29981_dark,
                 c29981_red, c29981_brown, c29981_green, c29981_yellow, c29981_orange], c29981_colors,
                (58.8, 96.2), (-0.00013, 0.0151),
                [0, 0.003, 0.006, 0.009, 0.012, 0.015], temp_ticks_60,
                46, 36, True, 48, 70)
p4 = make_panel("mmu_circRNA_36096", c36096_temp,
                [c36096_pinkred, c36096_violet, c36096_green, c36096_tealpale, c36096_slateblue,
                 c36096_magenta, c36096_crimson, c36096_red, c36096_slate, c36096_teal], c36096_colors,
                (64.0, 97.1), (-0.00081, 0.00422),
                [0, 0.001, 0.002, 0.003, 0.004], temp_ticks,
                39, 38, False, 48, 70)
p5 = make_panel("mmu_circRNA_004372", c004372_temp,
                [c004372_gray, c004372_bluegray, c004372_cyan, c004372_lightorange, c004372_yellow,
                 c004372_orange2, c004372_orange, c004372_yellowlow, c004372_crimson, c004372_red],
                c004372_colors,
                (64.0, 98.0), (-0.0001, 0.00319), [0, 0.001, 0.002, 0.003], temp_ticks,
                38, 32, True, 38, 70)
p6 = make_panel("mmu_circRNA_22646", c22646_temp,
                [c22646_lightorange, c22646_yellow2, c22646_yellow, c22646_graygreen, c22646_blue,
                 c22646_red, c22646_pink, c22646_olive, c22646_magenta, c22646_purple], c22646_colors,
                (64.0, 97.9), (-0.00015, 0.00805), [0, 0.002, 0.004, 0.006, 0.008], temp_ticks,
                43, 31, False, 38, 70)
p7 = make_panel("mmu_circRNA_28028", c28028_temp,
                [c28028_blue, c28028_dark, c28028_brown, c28028_orange, c28028_gold,
                 c28028_yellow, c28028_yellow2], c28028_colors,
                (64.0, 97.0), (-0.00813, 0.01225),
                [-0.008, -0.004, 0, 0.004, 0.008, 0.012], temp_ticks,
                31, 33, True, 48, 58)
p8 = make_panel("mmu_circRNA_008234", c008234_temp,
                [c008234_yellow, c008234_orange, c008234_green, c008234_cyan, c008234_pink,
                 c008234_crimson, c008234_blue, c008234_red, c008234_black, c008234_navy],
                c008234_colors,
                (64.05, 97.0), (-0.00006, 0.00504),
                [0, 0.001, 0.002, 0.003, 0.004, 0.005], temp_ticks,
                40, 33, False, 48, 58)

layout = column(row(p1, p2), row(p3, p4), row(p5, p6), row(p7, p8))

open("out.html", "w").write(file_html(layout, INLINE))
